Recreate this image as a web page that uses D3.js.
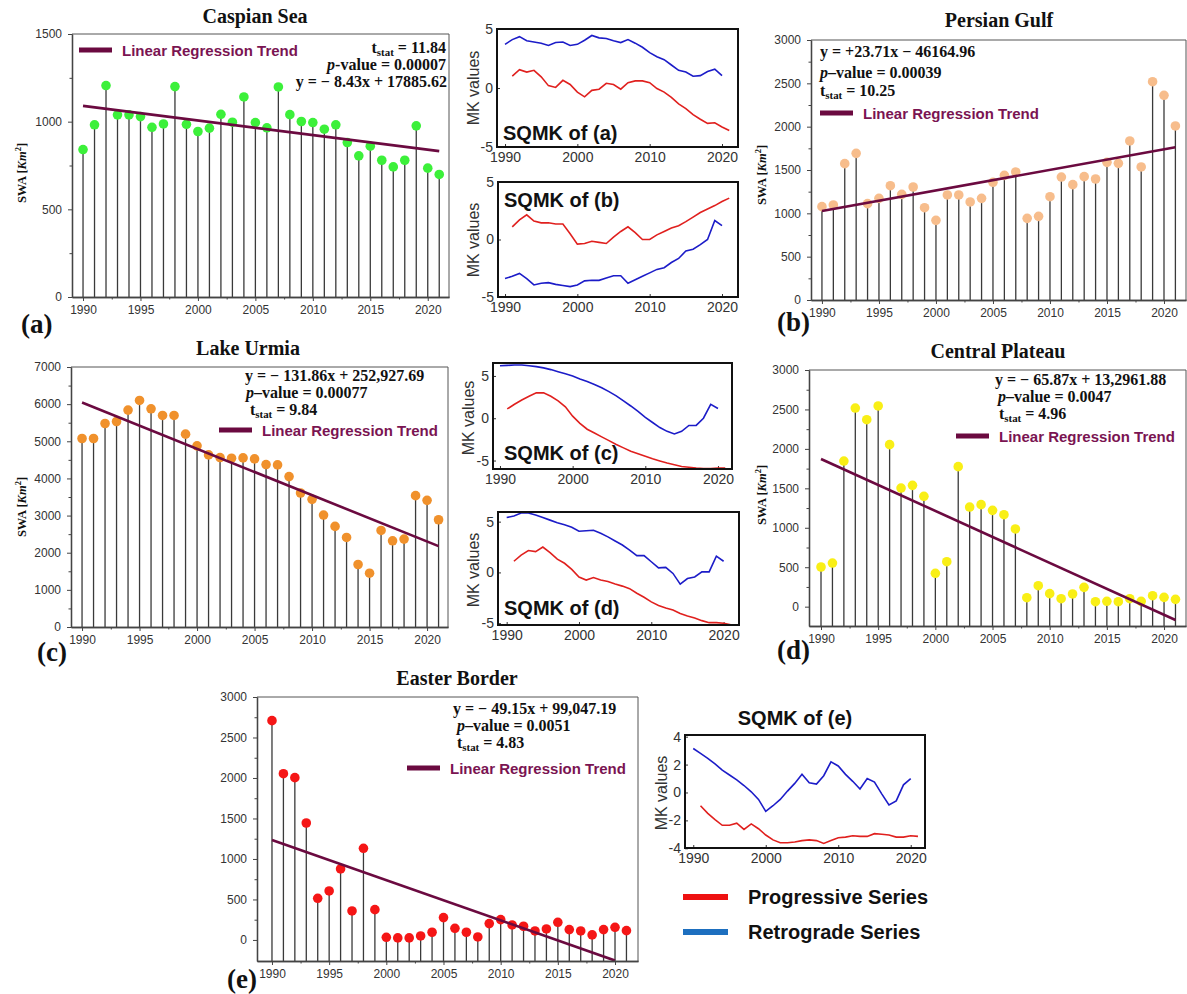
<!DOCTYPE html>
<html><head><meta charset="utf-8">
<script src="https://cdn.jsdelivr.net/npm/d3@7"></script>
<style>
body{margin:0;background:#fff}
svg{display:block;background:#fff}
</style></head>
<body><svg id="c" width="1187" height="994" font-family="Liberation Sans, Arial, sans-serif"></svg>
<script>
// ---------------- DATA ----------------
const years = [1990,1991,1992,1993,1994,1995,1996,1997,1998,1999,2000,2001,2002,2003,2004,2005,
               2006,2007,2008,2009,2010,2011,2012,2013,2014,2015,2016,2017,2018,2019,2020,2021];
const retroYears = years.slice(0, 31);   // 1990-2020
const progYears = years.slice(1);        // 1991-2021
const xMajorTicks = [1990,1995,2000,2005,2010,2015,2020];
const xMinorTicks = [1992.5,1997.5,2002.5,2007.5,2012.5,2017.5];
const sqXTicks = [1990,2000,2010,2020];

const caspianSWA = [841,982,1206,1039,1039,1029,968,987,1200,985,944,963,1042,997,1141,995,965,1198,1040,1001,995,957,982,881,805,860,780,742,780,976,735,699];
const persianSWA = [1077,1096,1573,1692,1112,1173,1319,1219,1304,1065,919,1212,1212,1131,1173,1358,1438,1477,942,965,1192,1419,1331,1423,1396,1588,1577,1835,1535,2519,2362,2008];
const urmiaSWA = [5075,5075,5479,5533,5839,6100,5875,5695,5695,5192,4877,4634,4562,4544,4553,4526,4373,4364,4049,3608,3437,3014,2708,2411,1683,1449,2600,2321,2366,3536,3410,2888];
const plateauSWA = [503,553,1846,2518,2370,2544,2054,1504,1538,1399,423,570,1775,1263,1293,1221,1166,985,114,266,165,101,161,245,63,68,63,101,68,139,118,93];
const easterSWA = [2708,2053,2004,1444,514,605,877,358,1132,374,33,25,25,49,95,276,144,95,37,202,251,185,169,111,136,218,128,111,62,128,156,115];

// regression trend end points (year, value)
const caspianTrendYears = [1990, 2021], caspianTrend = [1090, 832];
const persianTrendYears = [1990, 2021], persianTrend = [1027, 1762];
const urmiaTrendYears = [1990, 2021], urmiaTrend = [6046, 2177];
const plateauTrendYears = [1990, 2021], plateauTrend = [1872, -169];
const easterTrendYears = [1990, 2020], easterTrend = [1235, -255];

// Sequential Mann-Kendall series
const sqmkA_prog = [1.0,1.55,1.35,1.5,0.95,0.2,0.05,0.65,0.3,-0.35,-0.75,-0.2,-0.1,0.4,0.3,-0.1,0.45,0.6,0.6,0.45,-0.05,-0.35,-0.8,-1.35,-1.75,-2.25,-2.65,-3.0,-2.95,-3.3,-3.6];
const sqmkA_retro = [3.7,4.1,4.35,4.0,3.9,3.8,3.6,3.85,3.9,3.6,3.7,4.05,4.45,4.25,4.2,4.0,3.85,4.1,3.8,3.45,3.0,2.65,2.4,1.95,1.5,1.35,1.0,1.05,1.4,1.6,1.05];
const sqmkB_prog = [1.1,1.7,2.15,1.6,1.45,1.45,1.35,1.35,0.5,-0.4,-0.35,-0.15,-0.25,-0.35,0.2,0.7,1.1,0.6,0.0,0.0,0.4,0.7,1.0,1.2,1.55,1.95,2.35,2.65,2.95,3.3,3.6];
const sqmkB_retro = [-3.4,-3.2,-2.95,-3.4,-3.95,-3.8,-3.75,-3.9,-4.0,-4.1,-3.95,-3.6,-3.55,-3.55,-3.35,-3.15,-3.15,-3.8,-3.5,-3.2,-2.9,-2.6,-2.45,-2.0,-1.65,-1.0,-0.85,-0.45,0.0,1.65,1.2];
const sqmkC_prog = [1.1,1.65,2.15,2.6,3.0,3.0,2.6,2.05,1.35,0.25,-0.6,-1.3,-1.75,-2.2,-2.65,-3.1,-3.5,-3.9,-4.2,-4.5,-4.8,-5.05,-5.3,-5.5,-5.7,-5.8,-5.9,-5.95,-5.95,-5.9,-5.9];
const sqmkC_retro = [6.2,6.25,6.3,6.3,6.2,6.1,5.95,5.75,5.5,5.25,5.0,4.65,4.35,4.0,3.6,3.15,2.65,2.05,1.45,0.8,0.1,-0.5,-1.1,-1.55,-1.85,-1.55,-0.85,-0.85,0.0,1.65,1.15];
const sqmkD_prog = [1.1,1.7,2.15,2.05,2.5,1.95,1.3,0.9,0.3,-0.45,-0.75,-0.5,-0.75,-0.9,-1.15,-1.35,-1.6,-2.05,-2.45,-2.9,-3.25,-3.5,-3.7,-4.05,-4.3,-4.5,-4.75,-4.95,-4.95,-5.0,-5.15];
const sqmkD_retro = [5.4,5.55,5.85,5.85,5.65,5.4,5.15,4.9,4.7,4.45,4.05,4.1,4.15,3.85,3.5,3.1,2.7,2.2,1.65,1.65,1.05,0.45,0.5,-0.1,-1.15,-0.6,-0.45,0.05,0.05,1.6,1.1];
const sqmkE_prog = [-0.95,-1.5,-1.95,-2.35,-2.35,-2.2,-2.65,-2.25,-2.6,-3.05,-3.4,-3.6,-3.6,-3.55,-3.45,-3.4,-3.45,-3.65,-3.45,-3.25,-3.2,-3.1,-3.15,-3.15,-2.95,-3.0,-3.05,-3.2,-3.2,-3.1,-3.15];
const sqmkE_retro = [3.15,2.8,2.45,2.05,1.6,1.25,0.9,0.5,0.05,-0.5,-1.35,-0.95,-0.5,0.1,0.65,1.3,0.7,0.6,1.2,2.2,1.9,1.3,0.8,0.25,1.0,0.75,-0.1,-0.9,-0.6,0.55,1.0];

// ---------------- DRAWING ----------------
const TREND = '#6b0a40', TREND_TXT = '#7a1452';
const SERIF = 'Liberation Serif, Times New Roman, serif';
const SANS = 'Liberation Sans, Arial, sans-serif';
const svg = d3.select('#c');
let clipN = 0;

function rich(g, x, y, anchor, segs, size) {
  const t = g.append('text').attr('x', x).attr('y', y).attr('text-anchor', anchor)
    .attr('font-family', SERIF).attr('font-weight', 'bold').attr('font-size', size).attr('fill', '#111');
  let shift = 0;
  segs.forEach(s => {
    const ts = t.append('tspan').text(s.t);
    let want = s.sub ? 3 : (s.sup ? -5 : 0);
    if (want !== shift) { ts.attr('dy', want - shift); shift = want; }
    if (s.it) ts.attr('font-style', 'italic');
    if (s.sub || s.sup) ts.attr('font-size', size * 0.68);
  });
  return t;
}

function stemPanel(p) {
  const x = d3.scaleLinear().domain(p.xDom).range([p.left, p.right]);
  const y = d3.scaleLinear().domain(p.yDom).range([p.bottom, p.top]);
  const g = svg.append('g');
  const cid = 'cl' + (clipN++);
  svg.append('clipPath').attr('id', cid).append('rect')
    .attr('x', p.left).attr('y', p.top).attr('width', p.right - p.left).attr('height', p.bottom - p.top);
  g.append('path').attr('d', `M${p.left},${p.top}H${p.right}V${p.bottom}`)
    .attr('fill', 'none').attr('stroke', '#555').attr('stroke-width', 1);
  g.append('g').selectAll('line').data(p.values).join('line')
    .attr('x1', (d, i) => x(years[i])).attr('x2', (d, i) => x(years[i]))
    .attr('y1', p.bottom).attr('y2', d => y(d))
    .attr('stroke', '#3a3a3a').attr('stroke-width', 1.3);
  g.append('g').selectAll('circle').data(p.values).join('circle')
    .attr('cx', (d, i) => x(years[i])).attr('cy', d => y(d)).attr('r', 4.8).attr('fill', p.color);
  g.append('line').attr('clip-path', `url(#${cid})`)
    .attr('x1', x(p.trendYears[0])).attr('y1', y(p.trend[0]))
    .attr('x2', x(p.trendYears[1])).attr('y2', y(p.trend[1]))
    .attr('stroke', TREND).attr('stroke-width', 2.6);
  const style = sel => {
    sel.selectAll('.domain').attr('stroke', '#444').attr('stroke-width', 1.3);
    sel.selectAll('.tick line').attr('stroke', '#444').attr('stroke-width', 1);
    sel.selectAll('text').attr('font-family', SANS).attr('font-size', 12).attr('fill', '#333');
  };
  g.append('g').attr('transform', `translate(0,${p.bottom})`)
    .call(d3.axisBottom(x).tickValues(xMinorTicks).tickFormat('').tickSizeInner(2.5).tickSizeOuter(0)).call(style);
  g.append('g').attr('transform', `translate(0,${p.bottom})`)
    .call(d3.axisBottom(x).tickValues(xMajorTicks).tickFormat(d3.format('d')).tickSizeInner(4).tickSizeOuter(0).tickPadding(4)).call(style);
  g.append('g').attr('transform', `translate(${p.left},0)`)
    .call(d3.axisLeft(y).tickValues(p.yMinor).tickFormat('').tickSizeInner(2.5).tickSizeOuter(0)).call(style);
  g.append('g').attr('transform', `translate(${p.left},0)`)
    .call(d3.axisLeft(y).tickValues(p.yMajor).tickFormat(d3.format('d')).tickSizeInner(4).tickSizeOuter(0).tickPadding(6)).call(style);
  g.append('text').attr('x', p.titleX).attr('y', p.titleY).attr('text-anchor', 'middle')
    .attr('font-family', SERIF).attr('font-weight', 'bold').attr('font-size', 20).attr('fill', '#111').text(p.title);
  if (p.ylab) {
    rich(g, 0, 0, 'middle', [{t: 'SWA '}, {t: '['}, {t: 'Km', it: true}, {t: '2', sup: true}, {t: ']'}], 12.5)
      .attr('transform', `translate(${p.ylab[0]},${p.ylab[1]}) rotate(-90)`);
  }
  g.append('text').attr('x', p.letter[0]).attr('y', p.letter[1])
    .attr('font-family', SERIF).attr('font-weight', 'bold').attr('font-size', 27).attr('fill', '#111').text(p.letterText);
  g.append('line').attr('x1', p.leg[0]).attr('x2', p.leg[0] + 33).attr('y1', p.leg[1]).attr('y2', p.leg[1])
    .attr('stroke', TREND).attr('stroke-width', 5);
  g.append('text').attr('x', p.leg[0] + 43).attr('y', p.leg[1] + 5.5)
    .attr('font-family', SANS).attr('font-weight', 'bold').attr('font-size', 15).attr('fill', TREND_TXT)
    .text('Linear Regression Trend');
  p.stats.forEach(s => rich(g, s.x, s.y, s.anchor || 'start', s.segs, 16));
}

function sqPanel(p) {
  const x = d3.scaleLinear().domain(p.xDom).range([p.left, p.right]);
  const y = d3.scaleLinear().domain(p.yDom).range([p.bottom, p.top]);
  const g = svg.append('g');
  const cid = 'cl' + (clipN++);
  svg.append('clipPath').attr('id', cid).append('rect')
    .attr('x', p.left).attr('y', p.top).attr('width', p.right - p.left).attr('height', p.bottom - p.top);
  const line = d3.line().x(d => x(d[0])).y(d => y(d[1]));
  const style = sel => {
    sel.selectAll('.domain').remove();
    sel.selectAll('.tick line').attr('stroke', '#333').attr('stroke-width', 1);
    sel.selectAll('text').attr('font-family', SANS).attr('font-size', 14).attr('fill', '#333');
  };
  g.append('g').attr('transform', `translate(0,${p.bottom})`)
    .call(d3.axisBottom(x).tickValues(sqXTicks).tickFormat(d3.format('d')).tickSizeInner(-3).tickSizeOuter(0).tickPadding(5)).call(style);
  g.append('g').attr('transform', `translate(${p.left},0)`)
    .call(d3.axisLeft(y).tickValues(p.yTicks).tickFormat(d => String(d)).tickSizeInner(-3).tickSizeOuter(0).tickPadding(4)).call(style);
  const lg = g.append('g').attr('clip-path', `url(#${cid})`);
  lg.append('path').datum(d3.zip(retroYears, p.retro)).attr('d', line)
    .attr('fill', 'none').attr('stroke', '#1c1cc8').attr('stroke-width', 1.6);
  lg.append('path').datum(d3.zip(progYears, p.prog)).attr('d', line)
    .attr('fill', 'none').attr('stroke', '#e0201e').attr('stroke-width', 1.6);
  g.append('rect').attr('x', p.left).attr('y', p.top).attr('width', p.right - p.left).attr('height', p.bottom - p.top)
    .attr('fill', 'none').attr('stroke', '#111').attr('stroke-width', 2);
  g.append('text').attr('transform', `translate(${p.mk[0]},${p.mk[1]}) rotate(-90)`).attr('text-anchor', 'middle')
    .attr('font-family', SANS).attr('font-size', 16).attr('fill', '#333').text('MK values');
  g.append('text').attr('x', p.lab[0]).attr('y', p.lab[1]).attr('text-anchor', p.labAnchor || 'start')
    .attr('font-family', SANS).attr('font-weight', 'bold').attr('font-size', 20).attr('fill', '#111').text(p.label);
}

const tstat = v => [{t: 't'}, {t: 'stat', sub: true}, {t: ' = ' + v}];
const pval = (v, dash) => [{t: 'p', it: true}, {t: (dash || '–') + 'value = ' + v}];

stemPanel({
  left: 72, right: 449, top: 34, bottom: 297, xDom: [1989.04, 2021.85], yDom: [0, 1500],
  yMajor: [0, 500, 1000, 1500], yMinor: [250, 750, 1250],
  values: caspianSWA, color: '#3cf03a', trendYears: caspianTrendYears, trend: caspianTrend,
  title: 'Caspian Sea', titleX: 255, titleY: 23, ylab: [26, 173], letter: [21, 333], letterText: '(a)',
  leg: [79, 50],
  stats: [
    {x: 446, y: 53, anchor: 'end', segs: tstat('11.84')},
    {x: 446, y: 70, anchor: 'end', segs: pval('0.00007', '-')},
    {x: 447, y: 87, anchor: 'end', segs: [{t: 'y = − 8.43x + 17885.62'}]}
  ]
});
stemPanel({
  left: 811, right: 1186, top: 40, bottom: 300, xDom: [1989.04, 2021.93], yDom: [0, 3000],
  yMajor: [0, 500, 1000, 1500, 2000, 2500, 3000], yMinor: [250, 750, 1250, 1750, 2250, 2750],
  values: persianSWA, color: '#f7bd8c', trendYears: persianTrendYears, trend: persianTrend,
  title: 'Persian Gulf', titleX: 999, titleY: 27, ylab: [766, 175], letter: [777, 331], letterText: '(b)',
  leg: [820, 113],
  stats: [
    {x: 820, y: 57, segs: [{t: 'y = +23.71x − 46164.96'}]},
    {x: 820, y: 78, segs: pval('0.00039')},
    {x: 820, y: 96, segs: tstat('10.25')}
  ]
});
stemPanel({
  left: 71, right: 448, top: 367, bottom: 627, xDom: [1989.04, 2021.82], yDom: [0, 7000],
  yMajor: [0, 1000, 2000, 3000, 4000, 5000, 6000, 7000], yMinor: [500, 1500, 2500, 3500, 4500, 5500, 6500],
  values: urmiaSWA, color: '#f0912c', trendYears: urmiaTrendYears, trend: urmiaTrend,
  title: 'Lake Urmia', titleX: 248, titleY: 355, ylab: [26, 507], letter: [37, 661], letterText: '(c)',
  leg: [219, 430],
  stats: [
    {x: 245, y: 381, segs: [{t: 'y = − 131.86x + 252,927.69'}]},
    {x: 246, y: 398, segs: pval('0.00077')},
    {x: 250, y: 415, segs: tstat('9.84')}
  ]
});
stemPanel({
  left: 809, right: 1186, top: 370, bottom: 626, xDom: [1988.95, 2021.92], yDom: [-245, 3000],
  yMajor: [0, 500, 1000, 1500, 2000, 2500, 3000], yMinor: [250, 750, 1250, 1750, 2250, 2750],
  values: plateauSWA, color: '#f9ef16', trendYears: plateauTrendYears, trend: plateauTrend,
  title: 'Central Plateau', titleX: 998, titleY: 358, ylab: [766, 495], letter: [777, 659], letterText: '(d)',
  leg: [956, 436],
  stats: [
    {x: 995, y: 385, segs: [{t: 'y = − 65.87x + 13,2961.88'}]},
    {x: 998, y: 402, segs: pval('0.0047')},
    {x: 999, y: 419, segs: tstat('4.96')}
  ]
});
stemPanel({
  left: 257, right: 638, top: 697, bottom: 961, xDom: [1988.69, 2022.01], yDom: [-260, 3000],
  yMajor: [0, 500, 1000, 1500, 2000, 2500, 3000], yMinor: [250, 750, 1250, 1750, 2250, 2750],
  values: easterSWA, color: '#f51616', trendYears: easterTrendYears, trend: easterTrend,
  title: 'Easter Border', titleX: 457, titleY: 685, ylab: null, letter: [227, 988], letterText: '(e)',
  leg: [407, 768],
  stats: [
    {x: 453, y: 714, segs: [{t: 'y = − 49.15x + 99,047.19'}]},
    {x: 457, y: 731, segs: pval('0.0051')},
    {x: 457, y: 748, segs: tstat('4.83')}
  ]
});

sqPanel({left: 497, right: 738, top: 29, bottom: 147, xDom: [1988.89, 2022.21], yDom: [-5, 5], yTicks: [-5, 0, 5],
  prog: sqmkA_prog, retro: sqmkA_retro, mk: [479, 88], lab: [503, 140], label: 'SQMK of (a)'});
sqPanel({left: 498, right: 738, top: 182, bottom: 297, xDom: [1989.03, 2022.21], yDom: [-5, 5], yTicks: [-5, 0, 5],
  prog: sqmkB_prog, retro: sqmkB_retro, mk: [479, 240], lab: [504, 207], label: 'SQMK of (b)'});
sqPanel({left: 493, right: 732, top: 363, bottom: 469, xDom: [1989.04, 2021.93], yDom: [-6, 6.53], yTicks: [-5, 0, 5],
  prog: sqmkC_prog, retro: sqmkC_retro, mk: [474, 418], lab: [504, 460], label: 'SQMK of (c)'});
sqPanel({left: 498, right: 739, top: 512, bottom: 625, xDom: [1988.8, 2022.13], yDom: [-5.18, 5.95], yTicks: [-5, 0, 5],
  prog: sqmkD_prog, retro: sqmkD_retro, mk: [479, 570], lab: [504, 615], label: 'SQMK of (d)'});
sqPanel({left: 685, right: 925, top: 735, bottom: 848, xDom: [1988.86, 2021.97], yDom: [-3.98, 4.12], yTicks: [-4, -2, 0, 2, 4],
  prog: sqmkE_prog, retro: sqmkE_retro, mk: [667, 793], lab: [795, 725], labAnchor: 'middle', label: 'SQMK of (e)'});

const legendItems = [
  {label: 'Progressive Series', color: '#ee1111', y: 897},
  {label: 'Retrograde Series', color: '#1d6fbf', y: 932}
];
const lgd = svg.append('g');
legendItems.forEach(it => {
  lgd.append('line').attr('x1', 683).attr('x2', 728).attr('y1', it.y).attr('y2', it.y)
    .attr('stroke', it.color).attr('stroke-width', 6);
  lgd.append('text').attr('x', 748).attr('y', it.y + 7).attr('font-family', SANS).attr('font-weight', 'bold')
    .attr('font-size', 20).attr('fill', '#111').text(it.label);
});
</script>
</body></html>
